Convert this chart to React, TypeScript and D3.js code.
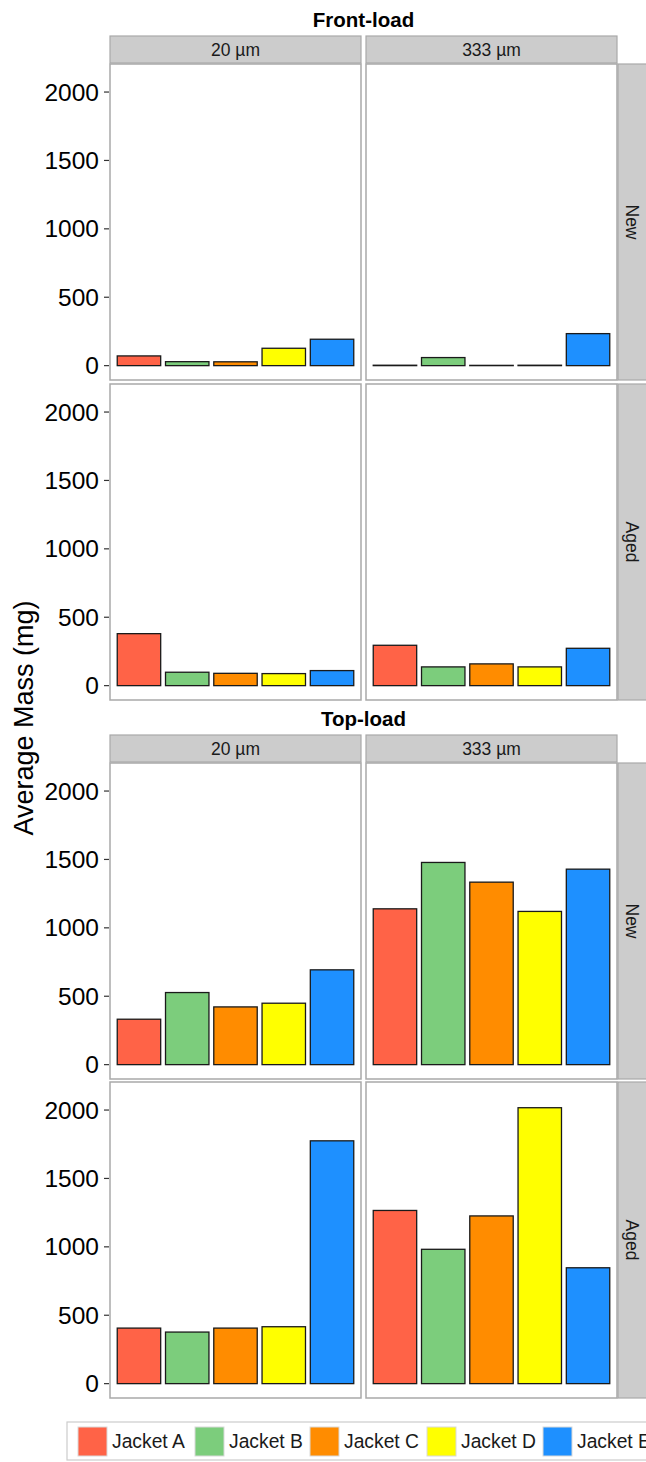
import React from "react";
import * as d3 from "d3";

const jackets = ["Jacket A", "Jacket B", "Jacket C", "Jacket D", "Jacket E"];
const jacketColors = ["#FF6347", "#7CCD7C", "#FF8C00", "#FFFF00", "#1E90FF"];
const meshSizes = ["20 µm", "333 µm"];
const conditions = ["New", "Aged"];
const loadTypes = ["Front-load", "Top-load"];

const frontNew20 = [71, 29, 28, 127, 193];
const frontNew333 = [3, 59, 2, 3, 234];
const frontAged20 = [380, 98, 90, 88, 110];
const frontAged333 = [295, 137, 159, 137, 273];
const topNew20 = [332, 527, 422, 449, 693];
const topNew333 = [1139, 1478, 1334, 1120, 1429];
const topAged20 = [406, 377, 406, 416, 1775];
const topAged333 = [1266, 982, 1226, 2017, 847];
const yTicks = [0, 500, 1000, 1500, 2000];
const yDomain = [-105, 2205];

const sectionData = [
  [
    [frontNew20, frontNew333],
    [frontAged20, frontAged333],
  ],
  [
    [topNew20, topNew333],
    [topAged20, topAged333],
  ],
];

const W = 646;
const H = 1462;
const colX = [
  [110, 361],
  [366, 617],
];
const stripRight = [618, 646];
const sections = [
  { titleY: 20, stripTop: 36, rowTops: [64, 384] },
  { titleY: 719, stripTop: 735, rowTops: [763, 1082] },
];
const panelH = 316;
const stripH = 27;
const FONT = "'Liberation Sans', Arial, sans-serif";
const borderCol = "#A9A9A9";

export default function App() {
  const legendX = [78, 195, 310, 427, 543];
  return (
    <svg
      width={W}
      height={H}
      style={{ position: "absolute", left: 0, top: 0, background: "#fff" }}
      fontFamily={FONT}
    >
      <rect x={0} y={0} width={W} height={H} fill="#fff" />
      {sections.map((sec, si) => (
        <g key={si}>
          <text
            x={(colX[0][0] + colX[1][1]) / 2}
            y={sec.titleY + 7}
            textAnchor="middle"
            fontWeight="bold"
            fontSize={20.5}
            fill="#000"
          >
            {loadTypes[si]}
          </text>
          {meshSizes.map((m, ci) => (
            <g key={ci}>
              <rect
                x={colX[ci][0]}
                y={sec.stripTop}
                width={colX[ci][1] - colX[ci][0]}
                height={stripH}
                fill="#CCCCCC"
                stroke={borderCol}
                strokeWidth={1.2}
              />
              <text
                x={(colX[ci][0] + colX[ci][1]) / 2}
                y={sec.stripTop + stripH / 2 + 6}
                textAnchor="middle"
                fontSize={17.5}
                fill="#1A1A1A"
              >
                {m}
              </text>
            </g>
          ))}
          {conditions.map((cond, ri) => {
            const top = sec.rowTops[ri];
            const bottom = top + panelH;
            const y = d3.scaleLinear().domain(yDomain).range([bottom, top]);
            return (
              <g key={ri}>
                {yTicks.map((t) => (
                  <g key={t}>
                    <line
                      x1={colX[0][0] - 6}
                      x2={colX[0][0] - 1}
                      y1={y(t)}
                      y2={y(t)}
                      stroke="#333"
                      strokeWidth={1.2}
                    />
                    <text
                      x={colX[0][0] - 11}
                      y={y(t) + 8.5}
                      textAnchor="end"
                      fontSize={24.5}
                      fill="#000"
                    >
                      {t}
                    </text>
                  </g>
                ))}
                {meshSizes.map((m, ci) => {
                  const x = d3
                    .scaleBand()
                    .domain(jackets)
                    .range([colX[ci][0], colX[ci][1]])
                    .paddingInner(0.1)
                    .paddingOuter(0.15);
                  const vals = sectionData[si][ri][ci];
                  return (
                    <g key={ci}>
                      <rect
                        x={colX[ci][0]}
                        y={top}
                        width={colX[ci][1] - colX[ci][0]}
                        height={panelH}
                        fill="#fff"
                      />
                      {vals.map((v, k) => (
                        <rect
                          key={k}
                          x={x(jackets[k])}
                          y={y(v)}
                          width={x.bandwidth()}
                          height={y(0) - y(v)}
                          fill={jacketColors[k]}
                          stroke="#1A1A1A"
                          strokeWidth={1.3}
                        />
                      ))}
                      <rect
                        x={colX[ci][0]}
                        y={top}
                        width={colX[ci][1] - colX[ci][0]}
                        height={panelH}
                        fill="none"
                        stroke={borderCol}
                        strokeWidth={1.5}
                      />
                    </g>
                  );
                })}
                <rect
                  x={stripRight[0]}
                  y={top}
                  width={stripRight[1] - stripRight[0] + 2}
                  height={panelH}
                  fill="#CCCCCC"
                  stroke={borderCol}
                  strokeWidth={1.2}
                />
                <text
                  transform={`translate(${(stripRight[0] + stripRight[1]) / 2 - 6},${top + panelH / 2}) rotate(90)`}
                  textAnchor="middle"
                  fontSize={17.5}
                  fill="#1A1A1A"
                >
                  {cond}
                </text>
              </g>
            );
          })}
        </g>
      ))}
      <text
        transform={`translate(33,718) rotate(-90)`}
        textAnchor="middle"
        fontSize={27}
        fill="#000"
      >
        Average Mass (mg)
      </text>
      <rect x={67} y={1422} width={600} height={38} fill="#fff" stroke="#CCCCCC" strokeWidth={1.2} />
      {jackets.map((j, k) => (
        <g key={j}>
          <rect
            x={legendX[k]}
            y={1427}
            width={29}
            height={29}
            fill={jacketColors[k]}
            stroke="#D9D9D9"
            strokeWidth={1}
          />
          <text x={legendX[k] + 34} y={1448} fontSize={19.3} fill="#1A1A1A">
            {j}
          </text>
        </g>
      ))}
    </svg>
  );
}
